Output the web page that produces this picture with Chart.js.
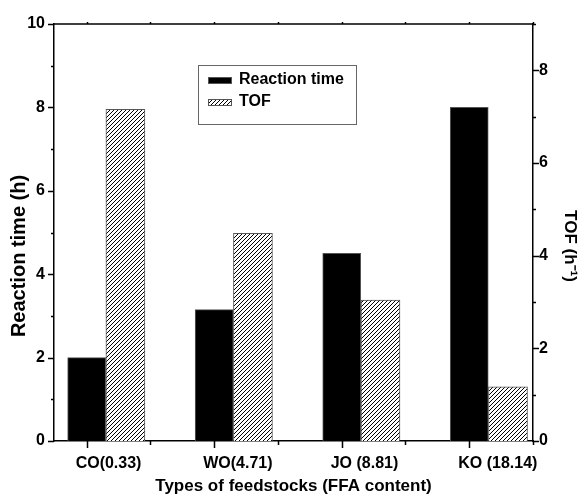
<!DOCTYPE html>
<html>
<head>
<meta charset="utf-8">
<script src="https://cdn.jsdelivr.net/npm/chart.js@4/dist/chart.umd.min.js"></script>
<style>
  body { margin: 0; background: #fff; }
  #chart { display: block; }
</style>
</head>
<body>
<canvas id="chart" width="582" height="497"></canvas>
<script>
// data
const feedstocks = ["CO(0.33)", "WO(4.71)", "JO (8.81)", "KO (18.14)"];
const reactionTime = [2.0, 3.15, 4.5, 8.0];   // h, left axis
const tof = [7.16, 4.48, 3.04, 1.17];         // h^-1, right axis
const leftTicks = [0, 2, 4, 6, 8, 10];
const rightTicks = [0, 2, 4, 6, 8];

const FONT = "'Liberation Sans', Arial, sans-serif";

// hatch pattern "////"
function makeHatch() {
    const c = document.createElement("canvas");
    c.width = 4; c.height = 4;
    const g = c.getContext("2d");
    g.fillStyle = "#fff";
    g.fillRect(0, 0, 4, 4);
    g.strokeStyle = "#000";
    g.lineWidth = 1;
    g.beginPath();
    g.moveTo(0, 4); g.lineTo(4, 0);
    g.moveTo(-1, 1); g.lineTo(1, -1);
    g.moveTo(3, 5); g.lineTo(5, 3);
    g.stroke();
    return g.createPattern(c, "repeat");
}
const hatch = makeHatch();

function sideTitle(c, text, x, y, angle, size) {
    c.save();
    c.translate(x, y);
    c.rotate(angle);
    c.fillStyle = "#000";
    c.font = "bold " + size + "px " + FONT;
    c.textAlign = "center";
    c.textBaseline = "middle";
    c.fillText(text, 0, 0);
    c.restore();
}

// tick marks (major / minor), top frame and the two side titles
const axisMarks = {
    id: "axisMarks",
    afterDraw(chart) {
        const c = chart.ctx;
        const area = chart.chartArea;
        c.save();
        c.strokeStyle = "#000";
        c.lineWidth = 1.5;
        c.beginPath();
        c.moveTo(area.left, area.top);
        c.lineTo(area.right, area.top);
        const sx = chart.scales.x;
        sx.ticks.forEach(t => {
            const px = Math.round(sx.getPixelForValue(t.value)) + 0.5;
            const major = Number.isInteger(t.value);
            c.moveTo(px, area.bottom);
            c.lineTo(px, area.bottom + (major ? 7 : 4));
            c.moveTo(px, area.top);
            c.lineTo(px, area.top - 2);
        });
        const sy = chart.scales.y;
        sy.ticks.forEach(t => {
            const py = Math.round(sy.getPixelForValue(t.value)) + 0.5;
            const major = t.value % 2 === 0;
            c.moveTo(area.left, py);
            c.lineTo(area.left - (major ? 6 : 3), py);
        });
        const sy2 = chart.scales.y2;
        sy2.ticks.forEach(t => {
            const py = Math.round(sy2.getPixelForValue(t.value)) + 0.5;
            const major = t.value % 2 === 0;
            c.moveTo(area.right, py);
            c.lineTo(area.right + (major ? 6 : 3), py);
        });
        c.stroke();
        c.restore();

        // axis titles sit a bit below centre in the original
        sideTitle(c, "Reaction time (h)", 19, 256, -Math.PI / 2, 20);
        sideTitle(c, "TOF (h\u207B\u00B9)", 570, 246, Math.PI / 2, 17);
    }
};

// legend box inside the plot
const boxLegend = {
    id: "boxLegend",
    afterDraw(chart) {
        const c = chart.ctx;
        const bx = 198, by = 65, bw = 158, bh = 59;
        c.save();
        c.fillStyle = "#fff";
        c.fillRect(bx, by, bw, bh);
        c.strokeStyle = "#666";
        c.lineWidth = 1;
        c.strokeRect(bx + 0.5, by + 0.5, bw, bh);
        chart.data.datasets.forEach((ds, i) => {
            const cy = 80 + i * 22;
            c.fillStyle = ds.backgroundColor;
            c.fillRect(208, cy - 3, 24, 7);
            c.strokeStyle = "#555";
            c.strokeRect(208.5, cy - 2.5, 23, 6);
            c.fillStyle = "#000";
            c.font = "bold 16px " + FONT;
            c.textBaseline = "middle";
            c.fillText(ds.label, 239, cy);
        });
        c.restore();
    }
};

const ctx = document.getElementById("chart").getContext("2d");
new Chart(ctx, {
    type: "bar",
    data: {
        datasets: [{
            label: "Reaction time",
            data: reactionTime.map((v, i) => ({ x: i, y: v })),
            backgroundColor: "#000",
            borderColor: "#555",
            borderWidth: 1,
            xAxisID: "x",
            yAxisID: "y",
            barThickness: 38,
            grouped: false
        }, {
            label: "TOF",
            data: tof.map((v, i) => ({ x: i, y: v })),
            backgroundColor: hatch,
            borderColor: "#555",
            borderWidth: 1,
            xAxisID: "x2",
            yAxisID: "y2",
            barThickness: 39,
            grouped: false
        }]
    },
    options: {
        responsive: false,
        animation: false,
        layout: { padding: { top: 24, left: 0, right: 0, bottom: 0 } },
        plugins: {
            legend: { display: false },
            tooltip: { enabled: false }
        },
        scales: {
            x: {
                type: "linear",
                position: "bottom",
                offset: false,
                min: -0.256,
                max: 3.5,
                afterBuildTicks: s => {
                    const t = [];
                    for (let v = 0; v <= 3.5; v += 0.5) t.push({ value: v });
                    s.ticks = t;
                },
                afterFit: s => { s.height = 56; },
                grid: { display: false, drawTicks: false, offset: false },
                border: { display: true, color: "#000", width: 1.5 },
                ticks: {
                    autoSkip: false,
                    maxRotation: 0,
                    align: "start",
                    labelOffset: -11,
                    padding: 13,
                    color: "#000",
                    font: { family: FONT, size: 16, weight: "bold" },
                    callback: v => Number.isInteger(v) ? feedstocks[v] : ""
                },
                title: {
                    display: true,
                    text: "Types of feedstocks (FFA content)",
                    color: "#000",
                    font: { family: FONT, size: 17, weight: "bold" },
                    padding: { top: 0, bottom: 0 }
                }
            },
            x2: {
                type: "linear",
                display: false,
                offset: false,
                min: -0.256 - 0.304,
                max: 3.5 - 0.304
            },
            y: {
                position: "left",
                min: 0,
                max: 10,
                afterFit: s => { s.width = 54; },
                grid: { display: false, drawTicks: false },
                border: { display: true, color: "#000", width: 1.5 },
                ticks: {
                    stepSize: 1,
                    padding: 9,
                    color: "#000",
                    font: { family: FONT, size: 16, weight: "bold" },
                    callback: v => leftTicks.includes(v) ? v : ""
                }
            },
            y2: {
                position: "right",
                min: 0,
                max: 9,
                afterFit: s => { s.width = 49; },
                grid: { display: false, drawTicks: false },
                border: { display: true, color: "#000", width: 1.5 },
                ticks: {
                    stepSize: 1,
                    padding: 6,
                    color: "#000",
                    font: { family: FONT, size: 16, weight: "bold" },
                    callback: v => rightTicks.includes(v) ? v : ""
                }
            }
        }
    },
    plugins: [axisMarks, boxLegend]
});
</script>
</body>
</html>
